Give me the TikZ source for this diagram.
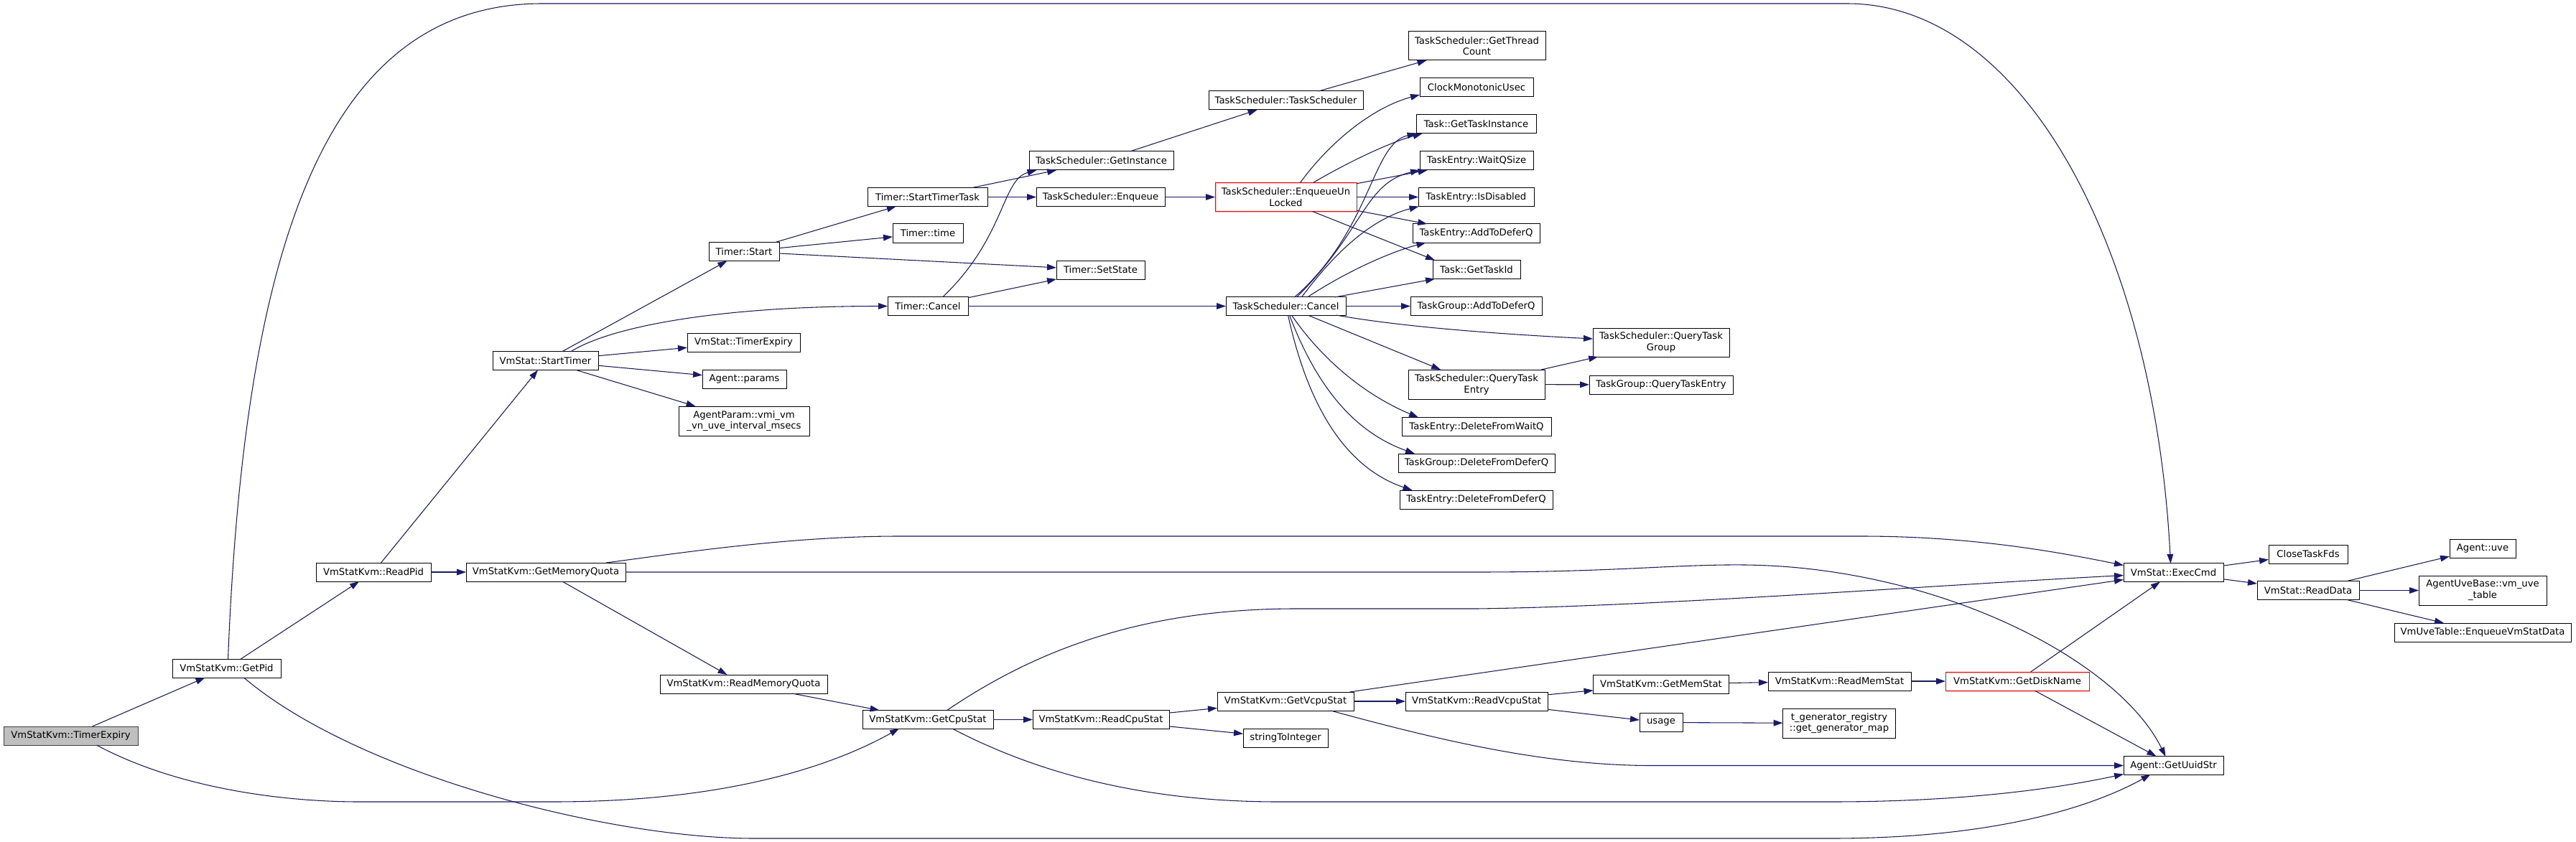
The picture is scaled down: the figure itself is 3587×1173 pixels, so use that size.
\documentclass[tikz,border=0pt]{standalone}
\usepackage{fontspec}
\setmainfont{DejaVu Sans}
\usetikzlibrary{arrows.meta,calc}
\definecolor{edgec}{HTML}{191970}
\definecolor{rootfill}{HTML}{BFBFBF}
\definecolor{rootdraw}{HTML}{404040}
\tikzset{
  gbox/.style={draw=black, fill=white, line width=0.75pt, inner sep=0pt, outer sep=0pt, align=center,
    font=\fontsize{9.9pt}{11.8pt}\selectfont},
  rootbox/.style={fill=rootfill, draw=rootdraw},
  redbox/.style={draw=red},
  e/.style={draw=edgec, line width=0.8pt, -{Triangle[length=9.75pt,width=6.5pt]}}
}
\newcommand{\gn}[7][]{\node[gbox,#1,minimum width={#5*0.75pt},minimum height={#6*0.75pt}] (#2) at (#3,#4) {#7};}
\begin{document}
\begin{tikzpicture}[x=0.75pt,y=-0.75pt]
\fill[white] (0,0) rectangle (3587,1173);
\useasboundingbox (0,0) rectangle (3587,1173);
% nodes
\gn[rootbox]{te}{98.5}{1025}{187}{26}{VmStatKvm::TimerExpiry}
\gn{getpid}{315.5}{931}{151}{26}{VmStatKvm::GetPid}
\gn{readpid}{520}{797}{160}{26}{VmStatKvm::ReadPid}
\gn{gmq}{760}{797}{222}{26}{VmStatKvm::GetMemoryQuota}
\gn{starttimer}{759.5}{502.5}{147}{26}{VmStat::StartTimer}
\gn{tstart}{1036}{350.5}{98}{26}{Timer::Start}
\gn{stt}{1291.5}{274.5}{167}{26}{Timer::StartTimerTask}
\gn{ttime}{1292}{325}{98}{26}{Timer::time}
\gn{gi}{1533.5}{224}{201}{26}{TaskScheduler::GetInstance}
\gn{enq}{1532.5}{274.5}{179}{26}{TaskScheduler::Enqueue}
\gn[redbox]{enqu}{1790.5}{274.5}{197}{40}{TaskScheduler::EnqueueUn\\Locked}
\gn{setstate}{1532.5}{376}{123}{26}{Timer::SetState}
\gn{tcancel}{1292}{426.5}{112}{26}{Timer::Cancel}
\gn{tscancel}{1790.5}{426.5}{167}{26}{TaskScheduler::Cancel}
\gn{vte}{1035.5}{477}{157}{26}{VmStat::TimerExpiry}
\gn{params}{1036.5}{528}{117}{26}{Agent::params}
\gn{apvmi}{1036}{586.5}{182}{41}{AgentParam::vmi\_vm\\\_vn\_uve\_interval\_msecs}
\gn{tsts}{1790.5}{140}{215}{26}{TaskScheduler::TaskScheduler}
\gn{gtc}{2056.5}{64}{191}{40}{TaskScheduler::GetThread\\Count}
\gn{cmu}{2056}{122}{158}{26}{ClockMonotonicUsec}
\gn{gti}{2055.5}{173}{167}{26}{Task::GetTaskInstance}
\gn{wqs}{2056}{224}{158}{26}{TaskEntry::WaitQSize}
\gn{isd}{2055.5}{274.5}{161}{26}{TaskEntry::IsDisabled}
\gn{teadq}{2055.5}{325}{177}{26}{TaskEntry::AddToDeferQ}
\gn{gtid}{2056}{375.5}{122}{26}{Task::GetTaskId}
\gn{tgadq}{2055.5}{426.5}{183}{26}{TaskGroup::AddToDeferQ}
\gn{qtg}{2313}{477}{190}{40}{TaskScheduler::QueryTask\\Group}
\gn{qte}{2056}{535.5}{190}{41}{TaskScheduler::QueryTask\\Entry}
\gn{tgqte}{2313}{536}{200}{26}{TaskGroup::QueryTaskEntry}
\gn{dfwq}{2056}{594.5}{208}{26}{TaskEntry::DeleteFromWaitQ}
\gn{tgdfdq}{2056}{645}{218}{26}{TaskGroup::DeleteFromDeferQ}
\gn{tedfdq}{2055.5}{696}{213}{26}{TaskEntry::DeleteFromDeferQ}
\gn{rmq}{1035.5}{953}{233}{26}{VmStatKvm::ReadMemoryQuota}
\gn{gcs}{1292}{1002.5}{182}{26}{VmStatKvm::GetCpuStat}
\gn{rcs}{1533}{1002.5}{190}{26}{VmStatKvm::ReadCpuStat}
\gn{gvs}{1790}{977}{190}{26}{VmStatKvm::GetVcpuStat}
\gn{sti}{1790}{1028}{118}{26}{stringToInteger}
\gn{rvs}{2056}{977}{198}{26}{VmStatKvm::ReadVcpuStat}
\gn{gms}{2313}{953}{189}{26}{VmStatKvm::GetMemStat}
\gn{rms}{2561.5}{949}{199}{26}{VmStatKvm::ReadMemStat}
\gn[redbox]{gdn}{2809}{949}{200}{26}{VmStatKvm::GetDiskName}
\gn{usage}{2313}{1006.5}{60}{26}{usage}
\gn{tgr}{2561}{1007.5}{157}{41}{t\_generator\_registry\\::get\_generator\_map}
\gn{exec}{3026.5}{797.5}{139}{26}{VmStat::ExecCmd}
\gn{ctf}{3214}{772}{110}{26}{CloseTaskFds}
\gn{rd}{3214}{822.5}{142}{26}{VmStat::ReadData}
\gn{auve}{3457}{764}{92}{26}{Agent::uve}
\gn{auvb}{3457}{822.5}{178}{41}{AgentUveBase::vm\_uve\\\_table}
\gn{vut}{3457}{881}{246}{26}{VmUveTable::EnqueueVmStatData}
\gn{uuid}{3026.5}{1066.5}{139}{26}{Agent::GetUuidStr}
% edges
\draw[e] (te) -- (getpid);
\draw[e] ($(te)+(36,13)$) .. controls (250,1100) and (400,1117) .. (500,1117) -- (770,1117) .. controls (1000,1117) and (1150,1072) .. ($(gcs)+(-40,12.5)$);
\draw[e] ($(getpid)+(2,-13)$) .. controls (340,350) and (450,5) .. (755,5) -- (2572,5) .. controls (2820,5) and (3000,350) .. ($(exec)+(-4,-12.5)$);
\draw[e] (getpid) -- (readpid);
\draw[e] ($(getpid)+(24,13)$) .. controls (500,1080) and (850,1168) .. (1050,1168) -- (2550,1168) .. controls (2800,1168) and (2930,1115) .. ($(uuid)+(-32,12.5)$);
\draw[e] (readpid) -- (starttimer);
\draw[e] (readpid) -- (gmq);
\draw[e] (starttimer) -- (tstart);
\draw[e] ($(starttimer)+(35,-12.5)$) .. controls (850,455) and (1000,426.5) .. (tcancel.west);
\draw[e] (starttimer) -- (vte);
\draw[e] (starttimer) -- (params);
\draw[e] (starttimer) -- (apvmi);
\draw[e] (tstart) -- (stt);
\draw[e] (tstart) -- (ttime);
\draw[e] (tstart) -- (setstate);
\draw[e] (stt) -- (gi);
\draw[e] (stt) -- (enq);
\draw[e] ($(tcancel)+(21,-13)$) .. controls (1400,330) and (1395,250) .. ($(gi)+(-90,13)$);
\draw[e] (tcancel) -- (setstate);
\draw[e] (tcancel) -- (tscancel);
\draw[e] (gi) -- (tsts);
\draw[e] (tsts) -- (gtc);
\draw[e] (enq) -- (enqu);
\draw[e] ($(enqu)+(20,-20)$) .. controls (1850,200) and (1910,150) .. ($(cmu)+(-79,10)$);
\draw[e] ($(enqu)+(38,-20)$) .. controls (1870,230) and (1930,200) .. ($(gti)+(-75,13)$);
\draw[e] (enqu) -- (wqs);
\draw[e] (enqu) -- (isd);
\draw[e] (enqu) -- (teadq);
\draw[e] ($(enqu)+(37,20)$) -- ($(gtid)+(-58,-13)$);
\draw[e] ($(tscancel)+(12,-12.5)$) .. controls (1910,320) and (1910,200) .. ($(gti)+(-83,13)$);
\draw[e] ($(tscancel)+(15,-12.5)$) .. controls (1900,320) and (1900,255) .. ($(wqs)+(-79,13)$);
\draw[e] ($(tscancel)+(22,-12.5)$) .. controls (1860,350) and (1910,305) .. ($(isd)+(-80,13)$);
\draw[e] ($(tscancel)+(30,-12.5)$) .. controls (1880,375) and (1940,350) .. ($(teadq)+(-70,13)$);
\draw[e] ($(tscancel)+(68,-12.5)$) -- ($(gtid)+(-58,13)$);
\draw[e] (tscancel) -- (tgadq);
\draw[e] ($(tscancel)+(70,12.5)$) .. controls (1950,455) and (2080,465) .. ($(qtg)+(-95,-5)$);
\draw[e] (tscancel) -- (qte);
\draw[e] ($(tscancel)+(8,12.5)$) .. controls (1840,500) and (1900,550) .. ($(dfwq)+(-81,-13)$);
\draw[e] ($(tscancel)+(5,12.5)$) .. controls (1830,530) and (1880,600) .. ($(tgdfdq)+(-86,-13)$);
\draw[e] ($(tscancel)+(3,12.5)$) .. controls (1820,560) and (1870,650) .. ($(tedfdq)+(-89,-13)$);
\draw[e] (qte) -- (qtg);
\draw[e] (qte) -- (tgqte);
\draw[e] ($(gmq)+(84,-13)$) .. controls (950,770) and (1100,747) .. (1252,747) -- (2592,747) .. controls (2750,747) and (2870,770) .. ($(exec)+(-69.5,-10)$);
\draw[e] (gmq.east) -- (2056,797) .. controls (2250,797) and (2330,786) .. (2430,787) .. controls (2700,790) and (2950,920) .. ($(uuid)+(-11,-12.5)$);
\draw[e] (gmq) -- (rmq);
\draw[e] (rmq) -- (gcs);
\draw[e] ($(gcs)+(26,-12.5)$) .. controls (1450,900) and (1600,849) .. (1800,848) -- (2056,848) .. controls (2300,845) and (2700,815) .. ($(exec)+(-69.5,4)$);
\draw[e] (gcs) -- (rcs);
\draw[e] ($(gcs)+(34,12.5)$) .. controls (1450,1080) and (1600,1117) .. (1780,1117) -- (2550,1117) .. controls (2750,1117) and (2880,1095) .. ($(uuid)+(-69.5,12)$);
\draw[e] (rcs) -- (gvs);
\draw[e] (rcs) -- (sti);
\draw[e] (gvs) -- (exec);
\draw[e] (gvs) -- (rvs);
\draw[e] ($(gvs)+(63,13)$) .. controls (2000,1030) and (2150,1066.5) .. (2300,1066.5) -- (uuid.west);
\draw[e] (rvs) -- (gms);
\draw[e] (rvs) -- (usage);
\draw[e] (gms) -- (rms);
\draw[e] (rms) -- (gdn);
\draw[e] (gdn) -- (exec);
\draw[e] (gdn) -- (uuid);
\draw[e] (usage) -- (tgr);
\draw[e] (exec) -- (ctf);
\draw[e] (exec) -- (rd);
\draw[e] (rd) -- (auve);
\draw[e] (rd) -- (auvb);
\draw[e] (rd) -- (vut);
\end{tikzpicture}
\end{document}
